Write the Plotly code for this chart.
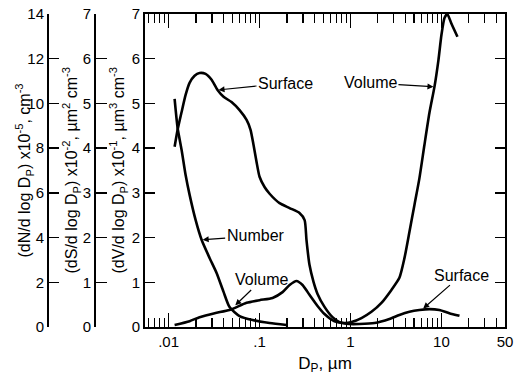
import numpy as np
import plotly.graph_objects as go

# ---------------- data ----------------
# Number distribution: dN/dlogDp x 1e-5, cm^-3
number_dp = [0.01164, 0.01256, 0.0139, 0.01538, 0.01702, 0.0198, 0.0231, 0.0282,
             0.0337, 0.0402, 0.0468, 0.0603, 0.0838, 0.129, 0.198]
number_val = [10.2, 8.9, 7.92, 6.80, 5.91, 4.79, 3.89, 3.09,
              2.42, 1.57, 0.89, 0.49, 0.31, 0.18, 0.09]

# Surface distribution: dS/dlogDp x 1e-2, um^2 cm^-3
surface_dp = [0.01164, 0.01256, 0.0139, 0.01538, 0.0170, 0.0193, 0.0219, 0.0255,
              0.0297, 0.0345, 0.0402, 0.0492, 0.0603, 0.0720, 0.0796, 0.0859,
              0.0927, 0.100, 0.1135, 0.129, 0.166, 0.214, 0.275, 0.313, 0.328,
              0.354, 0.392, 0.434, 0.518, 0.634, 0.757, 0.975, 1.256, 1.836,
              2.68, 3.45, 4.45, 5.73, 7.38, 9.5, 12.2, 15.8]
surface_val = [4.03, 4.41, 4.81, 5.19, 5.46, 5.62, 5.68, 5.66,
               5.53, 5.30, 5.15, 5.03, 4.85, 4.63, 4.41, 4.07,
               3.69, 3.36, 3.13, 2.98, 2.77, 2.66, 2.55, 2.39, 1.95,
               1.39, 1.01, 0.74, 0.45, 0.22, 0.11, 0.067, 0.067, 0.089,
               0.18, 0.27, 0.34, 0.38, 0.40, 0.38, 0.31, 0.25]

# Volume distribution: dV/dlogDp x 1e-1, um^3 cm^-3
volume_dp = [0.01164, 0.0170, 0.0219, 0.0321, 0.0468, 0.0720, 0.100, 0.139,
             0.179, 0.214, 0.255, 0.297, 0.354, 0.434, 0.518, 0.667, 0.859,
             1.026, 1.32, 1.70, 2.19, 2.82, 3.45, 3.92, 4.45, 5.05, 5.73,
             6.50, 7.38, 8.38, 9.27, 10.0, 10.8, 11.6, 12.9, 15.0]
volume_val = [0.045, 0.13, 0.22, 0.31, 0.38, 0.54, 0.60, 0.65,
              0.78, 0.94, 1.03, 0.94, 0.72, 0.47, 0.29, 0.13, 0.09,
              0.11, 0.20, 0.34, 0.54, 0.83, 1.10, 1.54, 2.13, 2.73, 3.33,
              4.07, 4.79, 5.37, 5.97, 6.53, 6.91, 7.0, 6.78, 6.49]

# Axis ticks
x_major_vals = [0.01, 0.1, 1, 10, 50]
x_major_text = [".01", ".1", "1", "10", "50"]
x_minor_vals = [0.006, 0.007, 0.008, 0.009,
                0.02, 0.03, 0.04, 0.05, 0.06, 0.07, 0.08, 0.09,
                0.2, 0.3, 0.4, 0.5, 0.6, 0.7, 0.8, 0.9,
                2, 3, 4, 5, 6, 7, 8, 9, 20, 30, 40]
x_range = [0.0055, 50]

# Curve labels: (text, arrow-tip Dp, arrow-tip value on V/S scale, text offset px)
label_text = ["Surface", "Volume", "Number", "Volume", "Surface"]
label_dp = [0.0345, 8.38, 0.0231, 0.0531, 6.18]
label_val = [5.30, 5.37, 1.95, 0.47, 0.40]
label_ax = [68, -64, 54, 27, 39]
label_ay = [-7, -4, -4, -26, -34]

# ---------------- figure ----------------
W, H = 517, 380
ML, MR, MT, MB = 0, 12, 14, 53
paper_w = W - ML - MR
FONT = "Liberation Sans, Arial, Helvetica, sans-serif"

fig = go.Figure()
line = dict(color="black", width=2.6, shape="spline", smoothing=0.6)
fig.add_trace(go.Scatter(x=number_dp, y=number_val, mode="lines", line=line,
                         yaxis="y2", name="Number", showlegend=False))
fig.add_trace(go.Scatter(x=surface_dp, y=surface_val, mode="lines", line=line,
                         yaxis="y3", name="Surface", showlegend=False))
fig.add_trace(go.Scatter(x=volume_dp, y=volume_val, mode="lines", line=line,
                         yaxis="y", name="Volume", showlegend=False))

tickfont = dict(family=FONT, size=15, color="black")
x0 = (145 - ML) / paper_w

fig.update_layout(
    width=W, height=H,
    margin=dict(l=ML, r=MR, t=MT, b=MB),
    paper_bgcolor="white", plot_bgcolor="white",
    font=dict(family=FONT, size=14, color="black"),
    xaxis=dict(
        type="log", domain=[x0, 1],
        range=[np.log10(x_range[0]), np.log10(x_range[1])],
        tickmode="array", tickvals=x_major_vals, ticktext=x_major_text,
        ticks="inside", ticklen=14, tickwidth=1.5, tickcolor="black",
        minor=dict(tickmode="array", tickvals=x_minor_vals, ticks="inside",
                   ticklen=9, tickwidth=1.2, tickcolor="black"),
        showline=True, linewidth=2, linecolor="black", mirror="ticks",
        showgrid=False, zeroline=False, tickfont=tickfont,
        title=dict(text="D<sub>P</sub>, µm", font=dict(family=FONT, size=17), standoff=8),
        automargin=False,
    ),
    yaxis=dict(
        range=[0, 7], dtick=1, ticks="inside", ticklen=10, tickwidth=1.5,
        tickcolor="black", showline=True, linewidth=2, linecolor="black",
        mirror="ticks", showgrid=False, zeroline=False, tickfont=tickfont,
        automargin=False,
    ),
    yaxis2=dict(
        overlaying="y", anchor="free", position=(48 - ML) / paper_w, side="left",
        range=[0, 14], dtick=2, ticks="inside", ticklen=10, tickwidth=1.5,
        tickcolor="black", showline=True, linewidth=2, linecolor="black",
        showgrid=False, zeroline=False, tickfont=tickfont, automargin=False,
    ),
    yaxis3=dict(
        overlaying="y", anchor="free", position=(95 - ML) / paper_w, side="left",
        range=[0, 7], dtick=1, ticks="inside", ticklen=11, tickwidth=1.5,
        tickcolor="black", showline=True, linewidth=2, linecolor="black",
        showgrid=False, zeroline=False, tickfont=tickfont, automargin=False,
    ),
)

# axis titles (rotated) placed beside each axis
titles = [
    ("(dN/d log D<sub>P</sub>) x10<sup>-5</sup>, cm<sup>-3</sup>", 24),
    ("(dS/d log D<sub>P</sub>) x10<sup>-2</sup>, µm<sup>2</sup> cm<sup>-3</sup>", 71),
    ("(dV/d log D<sub>P</sub>) x10<sup>-1</sup>, µm<sup>3</sup> cm<sup>-3</sup>", 118),
]
for txt, px in titles:
    fig.add_annotation(text=txt, xref="paper", yref="paper",
                       x=(px - ML) / paper_w, y=0.5, textangle=-90,
                       showarrow=False, xanchor="center", yanchor="middle",
                       font=dict(family=FONT, size=16, color="black"))

for t, dp, v, ax, ay in zip(label_text, label_dp, label_val, label_ax, label_ay):
    fig.add_annotation(text=t, x=np.log10(dp), y=v, xref="x", yref="y",
                       showarrow=True, ax=ax, ay=ay, axref="pixel", ayref="pixel",
                       arrowhead=2, arrowsize=1, arrowwidth=1.2, arrowcolor="black",
                       standoff=1, font=dict(family=FONT, size=16, color="black"))

fig.write_html("out.html",
               config={"displayModeBar": False, "staticPlot": True},
               post_script="document.body.style.margin='0px';"
                           "document.body.style.overflow='hidden';")
